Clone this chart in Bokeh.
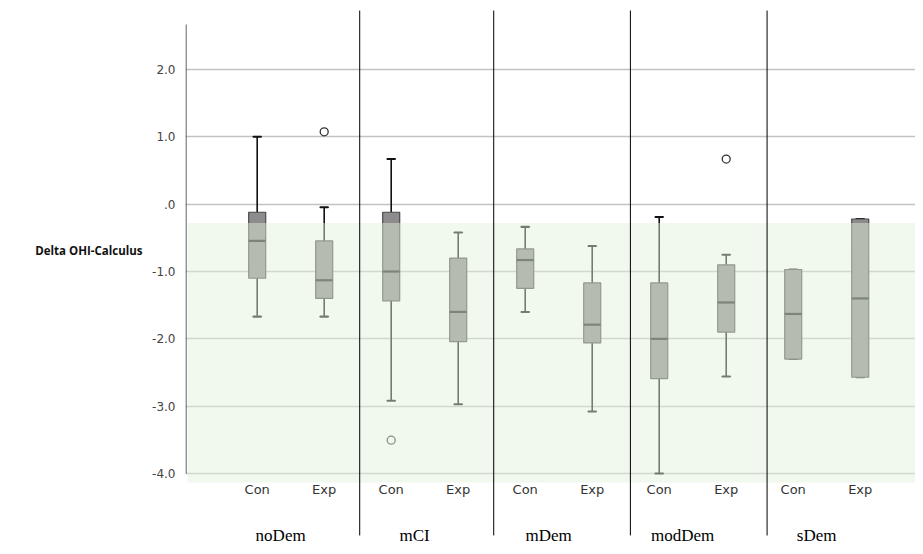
from bokeh.plotting import figure
from bokeh.models import ColumnDataSource, Range1d, FixedTicker, LinearAxis
from bokeh.core.properties import value
from bokeh.embed import file_html
from bokeh.resources import INLINE

# ---- data ----
groups = ["noDem", "mCI", "mDem", "modDem", "sDem"]
arms = ["Con", "Exp"]
whisk_lo = [-1.67, -1.67, -2.92, -2.97, -1.60, -3.08, -4.00, -2.56, -2.30, -2.57]
q1 = [-1.10, -1.40, -1.435, -2.04, -1.25, -2.06, -2.59, -1.90, -2.30, -2.57]
median = [-0.545, -1.13, -1.00, -1.60, -0.83, -1.79, -2.00, -1.46, -1.63, -1.40]
q3 = [-0.12, -0.545, -0.12, -0.80, -0.665, -1.17, -1.17, -0.90, -0.97, -0.22]
whisk_hi = [1.00, -0.045, 0.67, -0.42, -0.337, -0.62, -0.19, -0.75, -0.97, -0.22]
outlier_box = [1, 2, 7]          # index of box each outlier belongs to
outlier_val = [1.075, -3.505, 0.67]
ref_top, ref_bottom = -0.28, -4.134   # shaded reference area
y_ticks = [-4, -3, -2, -1, 0, 1, 2]
y_tick_labels = ["-4.0", "-3.0", "-2.0", "-1.0", ".0", "1.0", "2.0"]
y_title = "Delta OHI-Calculus"
y_title_at = -0.69
axis_top = 2.67

# ---- layout helpers ----
xpos = list(range(len(groups) * len(arms)))
arm_labels = [arms[i % 2] for i in xpos]
group_x = [2 * i + 0.5 - 0.15 for i in range(len(groups))]
sep_x = [1.53, 3.53, 5.57, 7.61]

x0, x1 = -1.070, 9.825
y0, y1 = -5.084, 3.025

p = figure(width=915, height=546, x_range=Range1d(x0, x1), y_range=Range1d(y0, y1),
           output_backend="svg", toolbar_location=None, x_axis_location=None,
           min_border_left=185, min_border_right=0, min_border_top=0, min_border_bottom=0)
p.outline_line_color = None
p.xgrid.grid_line_color = None
p.ygrid.grid_line_color = "#c2c2c2"
p.ygrid.grid_line_width = 1.3
p.ygrid.ticker = FixedTicker(ticks=y_ticks)

ax = p.yaxis[0]
ax.ticker = FixedTicker(ticks=y_ticks)
ax.major_label_overrides = {t: l for t, l in zip(y_ticks, y_tick_labels)}
ax.axis_line_color = None
ax.major_tick_line_color = None
ax.minor_tick_line_color = None
ax.major_label_standoff = 4
ax.major_label_text_font = "DejaVu Sans"
ax.major_label_text_font_size = "12px"
ax.major_label_text_color = "#444444"

# horizontal axis title, drawn as the single label of a second left axis
p.extra_y_ranges = {"title": Range1d(y0 - y_title_at, y1 - y_title_at)}
tax = LinearAxis(y_range_name="title", ticker=FixedTicker(ticks=[0]),
                 major_label_overrides={0: y_title})
tax.axis_line_color = None
tax.major_tick_line_color = None
tax.minor_tick_line_color = None
tax.major_label_standoff = 1
tax.major_label_text_font = "Open Sans"
tax.major_label_text_font_style = "bold"
tax.major_label_text_font_size = "11.5px"
tax.major_label_text_color = "#111111"
p.add_layout(tax, "left")

src = ColumnDataSource(dict(x=xpos, lo=whisk_lo, q1=q1, med=median, q3=q3, hi=whisk_hi, lab=arm_labels))

bw = 0.254
cw = 0.12
# whiskers
p.segment(x0="x", y0="q3", x1="x", y1="hi", source=src, line_color="#111111", line_width=1.6)
p.segment(x0="x", y0="q1", x1="x", y1="lo", source=src, line_color="#111111", line_width=1.6)
p.rect(x="x", y="hi", width=cw, height=0.0001, source=src, line_color="#111111", line_width=2, fill_color=None)
p.rect(x="x", y="lo", width=cw, height=0.0001, source=src, line_color="#111111", line_width=2, fill_color=None)
# boxes
p.quad(left=[x - bw / 2 for x in xpos], right=[x + bw / 2 for x in xpos], top=q3, bottom=q1,
       fill_color="#8e8b8c", line_color="#4a4a4a", line_width=1.2)
p.segment(x0=[x - bw / 2 for x in xpos], x1=[x + bw / 2 for x in xpos], y0=median, y1=median,
          line_color="#222222", line_width=2.2)
# outliers
p.scatter(x=[xpos[i] for i in outlier_box], y=outlier_val, size=8, marker="circle",
          fill_alpha=0, line_color="#333333", line_width=1.3)

# translucent reference area on top
p.quad(left=[x0 + 0.03], right=[x1], top=[ref_top], bottom=[ref_bottom],
       fill_color=(225, 240, 218), fill_alpha=0.48, line_color=None)

# y axis line
p.segment(x0=[x0 + 0.008], x1=[x0 + 0.008], y0=[y_ticks[0]], y1=[axis_top], line_color="#555555", line_width=1.2)

# separators
p.segment(x0=sep_x, x1=sep_x, y0=[2.876] * len(sep_x), y1=[-4.92] * len(sep_x), line_color="#000000", line_width=1)

# arm labels
p.text(x="x", y=-4.238, text="lab", source=src, text_font=value("DejaVu Sans"),
       text_font_size="13px", text_color="#333333", text_align="center", text_baseline="middle")
# group labels
p.text(x=group_x, y=[-4.921] * len(groups), text=groups, text_font=value("Liberation Serif"),
       text_font_size="17px", text_color="#000000", text_align="center", text_baseline="middle")

open("out.html", "w").write(file_html(p, INLINE))
